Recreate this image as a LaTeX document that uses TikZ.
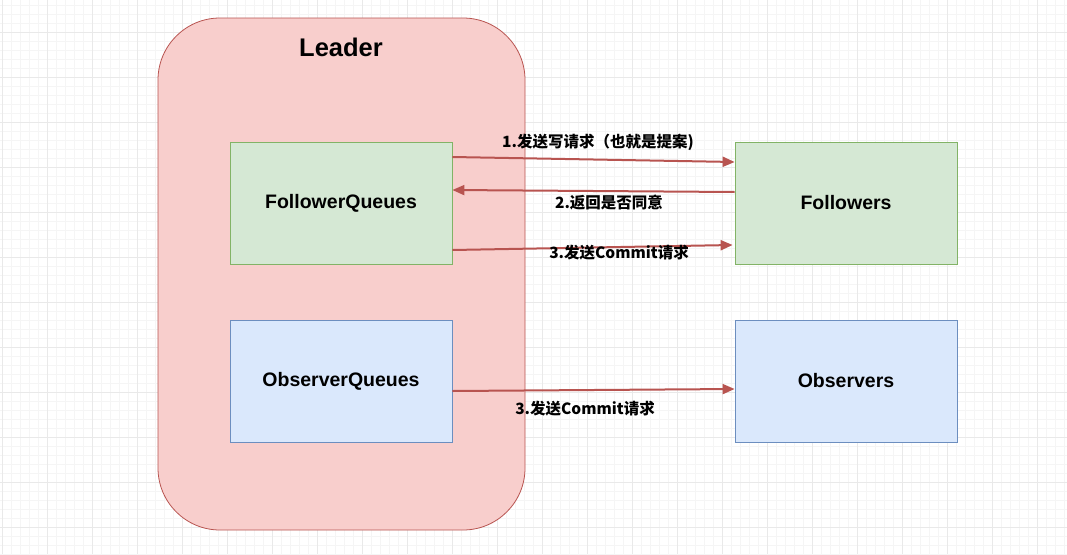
\documentclass[tikz,border=0pt]{standalone}
\usepackage{fontspec}
\setmainfont{Liberation Sans}
\newfontfamily\cjk{Noto Sans CJK SC}
\usetikzlibrary{arrows.meta}
\definecolor{leaderfill}{HTML}{F8CECC}
\definecolor{leaderdraw}{HTML}{B85450}
\definecolor{gfill}{HTML}{D5E8D4}
\definecolor{gdraw}{HTML}{82B366}
\definecolor{bfill}{HTML}{DAE8FC}
\definecolor{bdraw}{HTML}{6C8EBF}
\definecolor{minorgrid}{HTML}{F5F5F5}
\definecolor{majorgrid}{HTML}{E9E9E9}
\tikzset{
  qbox/.style={draw, line width=0.8pt, minimum width=222pt, minimum height=122pt, inner sep=0pt, font=\fontsize{19.5}{22}\selectfont\bfseries},
  gbox/.style={qbox, fill=gfill, draw=gdraw},
  bbox/.style={qbox, fill=bfill, draw=bdraw},
  conn/.style={draw=leaderdraw, line width=2pt, -{Triangle[length=12pt,width=10pt]}},
  lbl/.style={font=\cjk\fontsize{15.5}{18}\selectfont\bfseries, inner sep=0pt}
}
\begin{document}
\begin{tikzpicture}[x=1pt,y=-1pt]
\useasboundingbox (0,0) rectangle (1067,554);
\fill[white] (0,0) rectangle (1067,554);
% grid
\foreach \x in {2,11,...,1067} \draw[minorgrid, line width=0.6pt] (\x,0) -- (\x,554);
\foreach \y in {5,14,...,554} \draw[minorgrid, line width=0.6pt] (0,\y) -- (1067,\y);
\foreach \x in {2,47,...,1067} \draw[majorgrid, line width=0.8pt] (\x,0) -- (\x,554);
\foreach \y in {32,77,...,554} \draw[majorgrid, line width=0.8pt] (0,\y) -- (1067,\y);
% leader
\draw[fill=leaderfill, draw=leaderdraw, line width=0.8pt, rounded corners=62pt] (158,18) rectangle (525,530);
\node[font=\fontsize{25.5}{30}\selectfont\bfseries] (leader) at (341,47) {Leader};
% boxes
\node[gbox] (fq) at (341,203) {FollowerQueues};
\node[gbox] (f) at (846,203) {Followers};
\node[bbox] (oq) at (341,381) {ObserverQueues};
\node[bbox] (o) at (846,381) {Observers};
% connectors
\draw[conn] (fq.east |- 0,157) -- (f.west |- 0,162);
\draw[conn] (f.west |- 0,192) -- (fq.east |- 0,190);
\draw[conn] (fq.east |- 0,250) -- ([xshift=-2pt]f.west |- 0,245);
\draw[conn] (oq.east |- 0,391) -- (o.west |- 0,389);
% labels
\node[lbl] (l1) at (598,142) {1.发送写请求（也就是提案)};
\node[lbl] (l2) at (609,203) {2.返回是否同意};
\node[lbl] (l3) at (619,253) {3.发送Commit请求};
\node[lbl] (l4) at (585,409) {3.发送Commit请求};
\end{tikzpicture}
\end{document}
